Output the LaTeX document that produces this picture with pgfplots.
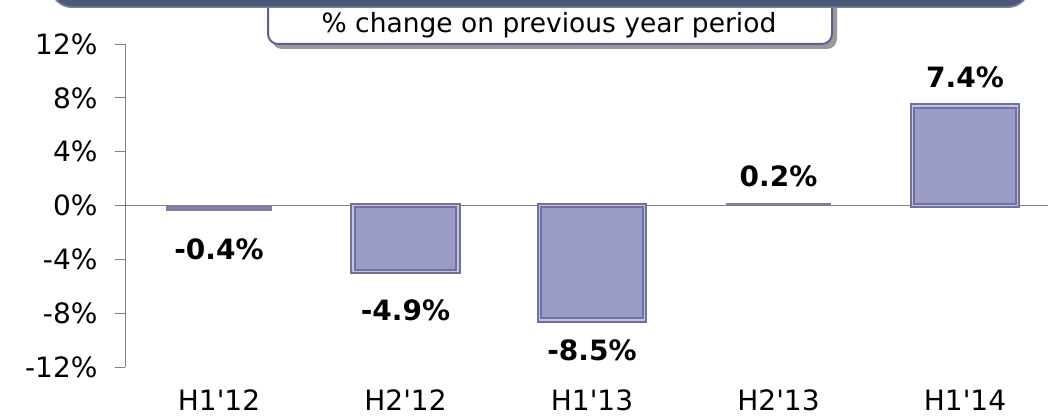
\documentclass[border=0pt]{standalone}
\usepackage{pgfplots}
\pgfplotsset{compat=1.18}
\usepackage{fontspec}
\setmainfont{DejaVu Sans}
\definecolor{hdr}{RGB}{76,88,120}
\definecolor{hdrlight}{RGB}{120,130,160}
\definecolor{boxb}{RGB}{95,95,150}
\definecolor{axgray}{RGB}{128,128,128}
\definecolor{barmid}{RGB}{155,155,200}
\definecolor{barhi}{RGB}{195,195,230}
\definecolor{barline}{RGB}{112,112,155}
\definecolor{thinbar}{RGB}{125,125,165}
\pgfplotsset{
  onebar/.style={ybar, bar width=105pt, bar shift=0pt},
  bevel/.style={fill=barmid, draw=barline, line width=2.2pt, double=barhi, double distance=1.4pt},
  lbl/.style={every node near coord/.append style={anchor=center, yshift=#1, text=black,
      font=\bfseries\fontsize{28}{32}\selectfont}},
}
\begin{document}
\begin{tikzpicture}
\useasboundingbox (0,0) rectangle (1048pt,419pt);
\begin{axis}[
  at={(125pt,52pt)}, anchor=south west,
  scale only axis, width=923pt, height=323pt,
  xmin=-0.504, xmax=4.445, ymin=-12, ymax=12,
  axis lines=left,
  axis line style={-, draw=axgray, line width=0.8pt},
  x axis line style={draw=none},
  xtick={0,1,2,3,4},
  xticklabels={H1\textquotesingle 12,H2\textquotesingle 12,H1\textquotesingle 13,H2\textquotesingle 13,H1\textquotesingle 14},
  xtick style={draw=none},
  ytick={-12,-8,-4,0,4,8,12},
  yticklabels={-12\%,-8\%,-4\%,0\%,4\%,8\%,12\%},
  tick align=outside, major tick length=10pt,
  ytick style={draw=axgray, line width=0.8pt},
  extra y ticks={0}, extra y tick labels={},
  extra y tick style={grid=major, major grid style={draw=axgray, line width=0.8pt}},
  tick label style={font=\fontsize{28}{33}\selectfont, text=black},
  xticklabel style={yshift=-9.5pt},
  yticklabel style={xshift=-14pt},
  clip=false,
]
\addplot[onebar, fill=thinbar, draw=none, nodes near coords={-0.4\%}, lbl=-38pt] coordinates {(0,-0.4)};
\addplot[onebar, bevel, nodes near coords={-4.9\%}, lbl=-39pt] coordinates {(1,-4.9)};
\addplot[onebar, bevel, nodes near coords={-8.5\%}, lbl=-30pt] coordinates {(2,-8.5)};
\addplot[onebar, fill=thinbar, draw=none, nodes near coords={0.2\%}, lbl=26pt] coordinates {(3,0.2)};
\addplot[onebar, bevel, nodes near coords={7.4\%}, lbl=29pt] coordinates {(4,7.4)};
\end{axis}
% label box with shadow
\fill[black!40, rounded corners=10pt] (272pt,370pt) rectangle (837pt,440pt);
\draw[boxb, fill=white, line width=2pt, rounded corners=10pt] (268pt,375pt) rectangle (832pt,440pt);
\node[font=\fontsize{26.5}{30}\selectfont, anchor=base, inner sep=0pt] at (549pt,386pt) {\% change on previous year period};
% header bar
\fill[hdrlight, rounded corners=22pt] (50pt,411pt) rectangle (1030pt,470pt);
\fill[hdr, rounded corners=22pt] (51pt,412.5pt) rectangle (1029pt,470pt);
\end{tikzpicture}
\end{document}
